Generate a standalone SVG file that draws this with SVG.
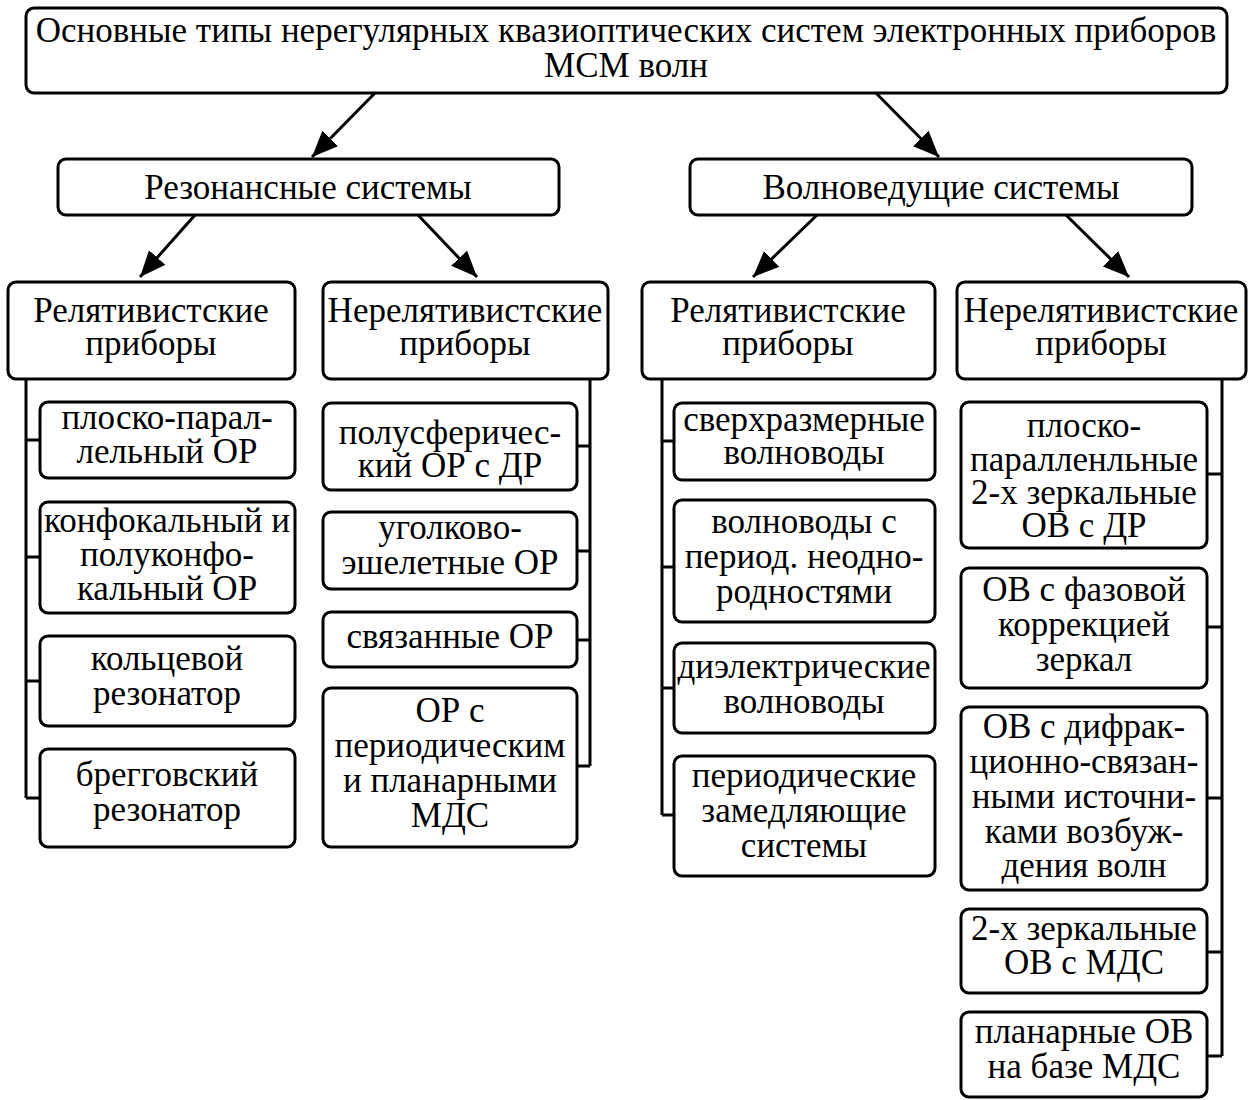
<svg xmlns="http://www.w3.org/2000/svg" width="1256" height="1100" viewBox="0 0 1256 1100">
<defs>
<marker id="ah" markerUnits="userSpaceOnUse" markerWidth="30" markerHeight="24" refX="26" refY="11" orient="auto">
<path d="M0,0 L26,11 L0,22 Z" fill="#000"/>
</marker>
<style>
rect{fill:#fff;stroke:#000;stroke-width:3}
text{font-family:"Liberation Serif","Times New Roman",serif;font-size:35px;fill:#000;text-anchor:middle}
.c line,.c path{stroke:#000;stroke-width:3;fill:none}
</style>
</defs>
<rect width="1256" height="1100" style="stroke:none"/>
<g class="c" id="connectors">
<line x1="375" y1="93" x2="312" y2="157" marker-end="url(#ah)"/>
<line x1="876" y1="93" x2="939" y2="157" marker-end="url(#ah)"/>
<line x1="195" y1="215" x2="140" y2="277" marker-end="url(#ah)"/>
<line x1="418" y1="215" x2="477" y2="277" marker-end="url(#ah)"/>
<line x1="817" y1="215" x2="753" y2="277" marker-end="url(#ah)"/>
<line x1="1066" y1="215" x2="1129" y2="277" marker-end="url(#ah)"/>
<path d="M26,379 V798 M26,440 H40 M26,557 H40 M26,681 H40 M26,798 H40"/>
<path d="M590,379 V766 M590,446 H577 M590,551 H577 M590,640 H577 M590,766 H577"/>
<path d="M662,379 V815 M662,441 H674 M662,567 H674 M662,688 H674 M662,815 H674"/>
<path d="M1222,379 V1056 M1222,474 H1207 M1222,627 H1207 M1222,798 H1207 M1222,952 H1207 M1222,1056 H1207"/>
</g>
<g id="root"><rect x="26" y="8" width="1201" height="85" rx="8"/>
<text x="626" y="42">Основные типы нерегулярных квазиоптических систем электронных приборов</text>
<text x="626" y="77">МСМ волн</text></g>
<g id="res"><rect x="58" y="159" width="501" height="56" rx="8"/><text x="308" y="199">Резонансные системы</text></g>
<g id="wave"><rect x="690" y="159" width="502" height="56" rx="8"/><text x="941" y="199">Волноведущие системы</text></g>
<g id="res-rel"><rect x="8" y="282" width="287" height="97" rx="8"/><text x="151" y="322">Релятивистские</text><text x="151" y="355">приборы</text></g>
<g id="res-nonrel"><rect x="323" y="282" width="285" height="97" rx="8"/><text x="465" y="322">Нерелятивистские</text><text x="465" y="355">приборы</text></g>
<g id="wave-rel"><rect x="642" y="282" width="293" height="97" rx="8"/><text x="788" y="322">Релятивистские</text><text x="788" y="355">приборы</text></g>
<g id="wave-nonrel"><rect x="957" y="282" width="289" height="97" rx="8"/><text x="1101" y="322">Нерелятивистские</text><text x="1101" y="355">приборы</text></g>

<g id="a1"><rect x="40" y="402" width="255" height="76" rx="8"/><text x="167" y="429">плоско-парал-</text><text x="167" y="463">лельный ОР</text></g>
<g id="a2"><rect x="40" y="502" width="255" height="111" rx="8"/><text x="167" y="532">конфокальный и</text><text x="167" y="566">полуконфо-</text><text x="167" y="600">кальный ОР</text></g>
<g id="a3"><rect x="40" y="636" width="255" height="90" rx="8"/><text x="167" y="670">кольцевой</text><text x="167" y="705">резонатор</text></g>
<g id="a4"><rect x="40" y="749" width="255" height="98" rx="8"/><text x="167" y="786">брегговский</text><text x="167" y="821">резонатор</text></g>

<g id="b1"><rect x="323" y="403" width="254" height="87" rx="8"/><text x="450" y="444">полусферичес-</text><text x="450" y="477">кий ОР с ДР</text></g>
<g id="b2"><rect x="323" y="512" width="254" height="77" rx="8"/><text x="450" y="539">уголково-</text><text x="450" y="574">эшелетные ОР</text></g>
<g id="b3"><rect x="323" y="612" width="254" height="55" rx="8"/><text x="450" y="648">связанные ОР</text></g>
<g id="b4"><rect x="323" y="688" width="254" height="159" rx="8"/><text x="450" y="722">ОР с</text><text x="450" y="757">периодическим</text><text x="450" y="792">и планарными</text><text x="450" y="827">МДС</text></g>

<g id="c1"><rect x="674" y="403" width="261" height="77" rx="8"/><text x="804" y="431">сверхразмерные</text><text x="804" y="464">волноводы</text></g>
<g id="c2"><rect x="674" y="500" width="261" height="122" rx="8"/><text x="804" y="533">волноводы с</text><text x="804" y="568">период. неодно-</text><text x="804" y="603">родностями</text></g>
<g id="c3"><rect x="674" y="643" width="261" height="90" rx="8"/><text x="804" y="678">диэлектрические</text><text x="804" y="713">волноводы</text></g>
<g id="c4"><rect x="674" y="756" width="261" height="120" rx="8"/><text x="804" y="787">периодические</text><text x="804" y="822">замедляющие</text><text x="804" y="857">системы</text></g>

<g id="d1"><rect x="961" y="402" width="246" height="146" rx="8"/><text x="1084" y="437">плоско-</text><text x="1084" y="471">паралленльные</text><text x="1084" y="504">2-х зеркальные</text><text x="1084" y="537">ОВ с ДР</text></g>
<g id="d2"><rect x="961" y="568" width="246" height="120" rx="8"/><text x="1084" y="601">ОВ с фазовой</text><text x="1084" y="636">коррекцией</text><text x="1084" y="671">зеркал</text></g>
<g id="d3"><rect x="961" y="707" width="246" height="183" rx="8"/><text x="1084" y="738">ОВ с дифрак-</text><text x="1084" y="773">ционно-связан-</text><text x="1084" y="808">ными источни-</text><text x="1084" y="843">ками возбуж-</text><text x="1084" y="877">дения волн</text></g>
<g id="d4"><rect x="961" y="909" width="246" height="84" rx="8"/><text x="1084" y="940">2-х зеркальные</text><text x="1084" y="974">ОВ с МДС</text></g>
<g id="d5"><rect x="961" y="1012" width="246" height="85" rx="8"/><text x="1084" y="1043">планарные ОВ</text><text x="1084" y="1078">на базе МДС</text></g>
</svg>
